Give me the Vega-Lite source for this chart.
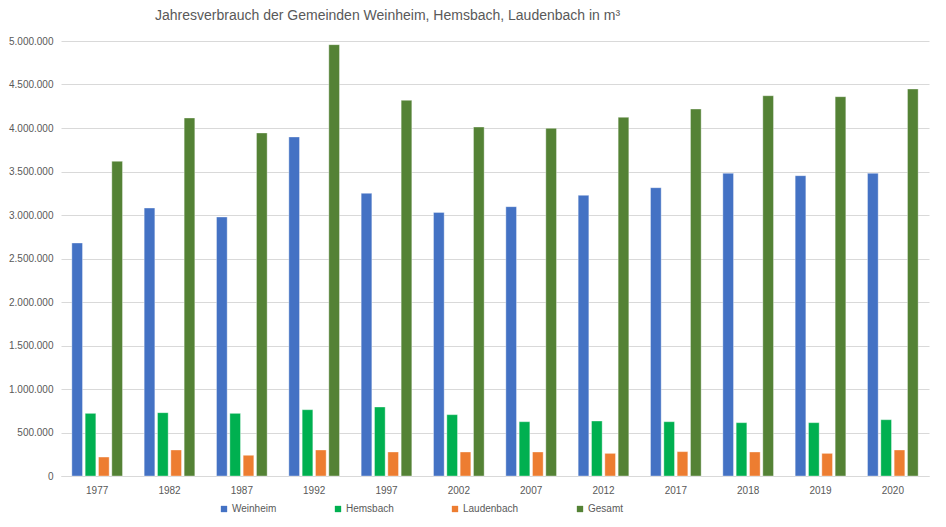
{
  "$schema": "https://vega.github.io/schema/vega-lite/v6.json",
  "width": 868,
  "height": 435,
  "autosize": {"type": "none"},
  "padding": {"left": 61, "top": 41, "right": 17, "bottom": 51},
  "background": "white",
  "title": {
    "text": "Jahresverbrauch der Gemeinden Weinheim, Hemsbach, Laudenbach in m³",
    "anchor": "start",
    "frame": "group",
    "dx": 94,
    "offset": 13,
    "fontSize": 14,
    "font": "Liberation Sans",
    "fontWeight": "normal",
    "color": "#595959"
  },
  "data": {
    "values": [
      {"Jahr": "1977", "Gemeinde": "Weinheim", "Verbrauch": 2678000},
      {"Jahr": "1977", "Gemeinde": "Hemsbach", "Verbrauch": 720000},
      {"Jahr": "1977", "Gemeinde": "Laudenbach", "Verbrauch": 218000},
      {"Jahr": "1977", "Gemeinde": "Gesamt", "Verbrauch": 3617000},
      {"Jahr": "1982", "Gemeinde": "Weinheim", "Verbrauch": 3080000},
      {"Jahr": "1982", "Gemeinde": "Hemsbach", "Verbrauch": 728000},
      {"Jahr": "1982", "Gemeinde": "Laudenbach", "Verbrauch": 299000},
      {"Jahr": "1982", "Gemeinde": "Gesamt", "Verbrauch": 4115000},
      {"Jahr": "1987", "Gemeinde": "Weinheim", "Verbrauch": 2977000},
      {"Jahr": "1987", "Gemeinde": "Hemsbach", "Verbrauch": 720000},
      {"Jahr": "1987", "Gemeinde": "Laudenbach", "Verbrauch": 238000},
      {"Jahr": "1987", "Gemeinde": "Gesamt", "Verbrauch": 3943000},
      {"Jahr": "1992", "Gemeinde": "Weinheim", "Verbrauch": 3897000},
      {"Jahr": "1992", "Gemeinde": "Hemsbach", "Verbrauch": 762000},
      {"Jahr": "1992", "Gemeinde": "Laudenbach", "Verbrauch": 299000},
      {"Jahr": "1992", "Gemeinde": "Gesamt", "Verbrauch": 4958000},
      {"Jahr": "1997", "Gemeinde": "Weinheim", "Verbrauch": 3249000},
      {"Jahr": "1997", "Gemeinde": "Hemsbach", "Verbrauch": 793000},
      {"Jahr": "1997", "Gemeinde": "Laudenbach", "Verbrauch": 276000},
      {"Jahr": "1997", "Gemeinde": "Gesamt", "Verbrauch": 4318000},
      {"Jahr": "2002", "Gemeinde": "Weinheim", "Verbrauch": 3030000},
      {"Jahr": "2002", "Gemeinde": "Hemsbach", "Verbrauch": 705000},
      {"Jahr": "2002", "Gemeinde": "Laudenbach", "Verbrauch": 276000},
      {"Jahr": "2002", "Gemeinde": "Gesamt", "Verbrauch": 4011000},
      {"Jahr": "2007", "Gemeinde": "Weinheim", "Verbrauch": 3096000},
      {"Jahr": "2007", "Gemeinde": "Hemsbach", "Verbrauch": 624000},
      {"Jahr": "2007", "Gemeinde": "Laudenbach", "Verbrauch": 276000},
      {"Jahr": "2007", "Gemeinde": "Gesamt", "Verbrauch": 3996000},
      {"Jahr": "2012", "Gemeinde": "Weinheim", "Verbrauch": 3226000},
      {"Jahr": "2012", "Gemeinde": "Hemsbach", "Verbrauch": 632000},
      {"Jahr": "2012", "Gemeinde": "Laudenbach", "Verbrauch": 260000},
      {"Jahr": "2012", "Gemeinde": "Gesamt", "Verbrauch": 4123000},
      {"Jahr": "2017", "Gemeinde": "Weinheim", "Verbrauch": 3314000},
      {"Jahr": "2017", "Gemeinde": "Hemsbach", "Verbrauch": 624000},
      {"Jahr": "2017", "Gemeinde": "Laudenbach", "Verbrauch": 280000},
      {"Jahr": "2017", "Gemeinde": "Gesamt", "Verbrauch": 4218000},
      {"Jahr": "2018", "Gemeinde": "Weinheim", "Verbrauch": 3479000},
      {"Jahr": "2018", "Gemeinde": "Hemsbach", "Verbrauch": 613000},
      {"Jahr": "2018", "Gemeinde": "Laudenbach", "Verbrauch": 276000},
      {"Jahr": "2018", "Gemeinde": "Gesamt", "Verbrauch": 4371000},
      {"Jahr": "2019", "Gemeinde": "Weinheim", "Verbrauch": 3452000},
      {"Jahr": "2019", "Gemeinde": "Hemsbach", "Verbrauch": 613000},
      {"Jahr": "2019", "Gemeinde": "Laudenbach", "Verbrauch": 260000},
      {"Jahr": "2019", "Gemeinde": "Gesamt", "Verbrauch": 4360000},
      {"Jahr": "2020", "Gemeinde": "Weinheim", "Verbrauch": 3479000},
      {"Jahr": "2020", "Gemeinde": "Hemsbach", "Verbrauch": 647000},
      {"Jahr": "2020", "Gemeinde": "Laudenbach", "Verbrauch": 299000},
      {"Jahr": "2020", "Gemeinde": "Gesamt", "Verbrauch": 4448000}
    ]
  },
  "mark": {"type": "bar", "stroke": "white", "strokeWidth": 0.6, "strokeOpacity": 0.6},
  "encoding": {
    "x": {
      "field": "Jahr",
      "type": "ordinal",
      "scale": {"paddingInner": 0.3, "paddingOuter": 0.15},
      "axis": {
        "title": null,
        "labelAngle": 0,
        "ticks": false,
        "domainColor": "#d9d9d9",
        "labelColor": "#595959",
        "labelFont": "Liberation Sans",
        "labelFontSize": 10,
        "labelPadding": 9
      }
    },
    "xOffset": {
      "field": "Gemeinde",
      "type": "nominal",
      "sort": ["Weinheim", "Hemsbach", "Laudenbach", "Gesamt"],
      "scale": {"paddingInner": 0.2, "paddingOuter": 0}
    },
    "y": {
      "field": "Verbrauch",
      "type": "quantitative",
      "scale": {"domain": [0, 5000000], "nice": false},
      "axis": {
        "title": null,
        "values": [0, 500000, 1000000, 1500000, 2000000, 2500000, 3000000, 3500000, 4000000, 4500000, 5000000],
        "format": ",.0f",
        "domain": false,
        "ticks": false,
        "gridColor": "#d9d9d9",
        "labelColor": "#595959",
        "labelFont": "Liberation Sans",
        "labelFontSize": 10,
        "labelPadding": 8
      }
    },
    "color": {
      "field": "Gemeinde",
      "type": "nominal",
      "sort": ["Weinheim", "Hemsbach", "Laudenbach", "Gesamt"],
      "scale": {
        "domain": ["Weinheim", "Hemsbach", "Laudenbach", "Gesamt"],
        "range": ["#4472C4", "#00B050", "#ED7D31", "#548235"]
      },
      "legend": {
        "title": null,
        "orient": "none",
        "direction": "horizontal",
        "legendX": 158,
        "legendY": 463,
        "columns": 4,
        "columnPadding": 56,
        "symbolType": "square",
        "symbolSize": 40,
        "symbolStrokeWidth": 0,
        "labelColor": "#595959",
        "labelFont": "Liberation Sans",
        "labelFontSize": 10,
        "labelOffset": 3
      }
    }
  },
  "config": {
    "view": {"stroke": null},
    "locale": {
      "number": {"decimal": ",", "thousands": ".", "grouping": [3], "currency": ["", " €"]}
    }
  }
}
